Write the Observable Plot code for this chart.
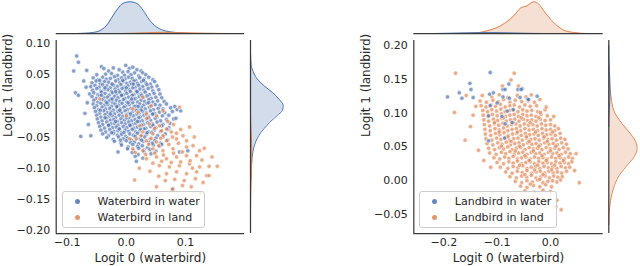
<!DOCTYPE html>
<html><head><meta charset="utf-8">
<script src="https://cdn.jsdelivr.net/npm/d3@7"></script>
<script src="https://cdn.jsdelivr.net/npm/@observablehq/plot@0.6"></script>
<style>
html,body{margin:0;padding:0;background:#fff;}
#chart{position:relative;width:640px;height:266px;overflow:hidden;font-family:"DejaVu Sans",sans-serif;color:#262626;}
.legend{position:absolute;box-sizing:border-box;border:1px solid #cccccc;border-radius:3px;background:rgba(255,255,255,0.8);font-size:11px;font-family:"DejaVu Sans",sans-serif;color:#262626;}
.legend .item{position:absolute;white-space:nowrap;line-height:16px;height:16px;}
.legend .sw{position:absolute;width:5px;height:5px;border-radius:50%;opacity:0.85;}
</style></head><body><div id="chart"></div>
<script>
// ---------- tick values ----------
const leftXTicks = [-0.1, 0.0, 0.1];
const leftYTicks = [0.10, 0.05, 0.00, -0.05, -0.10, -0.15, -0.20];
const rightXTicks = [-0.2, -0.1, 0.0];
const rightYTicks = [0.20, 0.15, 0.10, 0.05, 0.00, -0.05];

// ---------- labels ----------
const xLabel = "Logit 0 (waterbird)";
const yLabel = "Logit 1 (landbird)";
const leftSeries = ["Waterbird in water", "Waterbird in land"];
const rightSeries = ["Landbird in water", "Landbird in land"];

// ---------- scatter values (in thousandths of a logit) ----------
const waterbirdInWater = [
[-67,57],[-42,63],[-38,60],[-30,56],[-22,61],[-12,58],[-1,65],[5,60],[11,62],[18,58],[25,56],[28,53],[-50,50],[-25,52],[-6,54],[3,55],[14,53],[33,50],[-15,49],[21,48],[-35,51],[8,50],[-3,49],
[-56,45],[-48,42],[-40,46],[-34,43],[-27,44],[-20,47],[-14,42],[-8,45],[-2,43],[4,46],[10,44],[16,41],[23,45],[30,43],[38,46],[45,42],
[-58,37],[-51,40],[-44,36],[-37,39],[-30,38],[-24,35],[-18,40],[-11,37],[-5,39],[1,36],[7,38],[13,40],[19,36],[26,39],[33,37],[41,35],[48,39],
[-60,31],[-53,33],[-46,30],[-40,34],[-33,32],[-27,29],[-21,33],[-15,31],[-9,34],[-3,30],[3,32],[9,35],[15,30],[21,33],[28,31],[35,34],[43,30],[52,32],
[-57,25],[-50,28],[-43,24],[-37,27],[-31,26],[-25,23],[-19,27],[-13,25],[-7,28],[-1,24],[5,26],[11,29],[17,24],[23,27],[30,25],[37,28],[45,24],[55,26],
[-62,19],[-55,21],[-48,18],[-42,22],[-36,20],[-29,17],[-23,21],[-17,19],[-11,22],[-5,18],[1,20],[7,23],[13,18],[19,21],[25,19],[32,22],[39,18],[47,20],[57,19],
[-58,15],[-51,12],[-45,16],[-38,13],[-32,14],[-26,11],[-20,15],[-14,13],[-8,16],[-2,12],[4,14],[10,17],[16,12],[22,15],[28,13],[35,16],[42,12],[50,14],[60,13],
[-55,9],[-48,6],[-41,10],[-35,7],[-29,8],[-23,5],[-17,9],[-11,7],[-5,10],[1,6],[7,8],[13,11],[19,6],[25,9],[31,7],[38,10],[45,6],[53,8],[64,7],
[-56,3],[-50,0],[-43,4],[-37,1],[-31,2],[-25,-1],[-19,3],[-13,1],[-7,4],[-1,0],[5,2],[11,5],[17,0],[23,3],[29,1],[35,4],[42,0],[49,2],[57,1],[68,3],[82,-1],
[-54,-3],[-47,-6],[-41,-2],[-35,-5],[-28,-4],[-22,-7],[-16,-3],[-10,-5],[-4,-2],[2,-6],[8,-4],[14,-1],[20,-6],[26,-3],[32,-5],[39,-2],[46,-6],[54,-4],[62,-5],[75,-3],[86,-6],
[-52,-9],[-45,-12],[-38,-8],[-32,-11],[-26,-10],[-20,-13],[-14,-9],[-8,-11],[-2,-8],[4,-12],[10,-10],[16,-7],[22,-12],[28,-9],[34,-11],[41,-8],[48,-12],[56,-10],[65,-11],[78,-9],
[-50,-15],[-43,-18],[-36,-14],[-30,-17],[-24,-16],[-18,-19],[-12,-15],[-6,-17],[0,-14],[6,-18],[12,-16],[18,-13],[24,-18],[30,-15],[37,-17],[44,-14],[52,-18],[61,-16],[72,-15],
[-49,-21],[-41,-24],[-34,-20],[-27,-23],[-21,-22],[-15,-25],[-9,-21],[-3,-23],[3,-20],[9,-24],[15,-22],[21,-19],[27,-24],[34,-21],[41,-23],[49,-20],[58,-24],[68,-22],[80,-21],
[-47,-27],[-40,-30],[-33,-26],[-26,-29],[-20,-28],[-14,-31],[-8,-27],[-2,-29],[4,-26],[10,-30],[16,-28],[22,-25],[29,-30],[36,-27],[44,-29],[52,-26],[62,-30],[74,-28],
[-45,-33],[-37,-36],[-30,-32],[-23,-35],[-17,-34],[-11,-37],[-5,-33],[1,-35],[7,-32],[13,-36],[19,-34],[26,-31],[33,-36],[41,-33],[50,-35],[60,-32],[72,-35],
[-43,-39],[-35,-42],[-28,-38],[-21,-41],[-14,-40],[-8,-43],[-2,-39],[4,-41],[10,-38],[16,-42],[23,-40],[30,-37],[38,-42],[47,-39],[58,-41],[70,-38],
[-40,-45],[-30,-48],[-22,-44],[-15,-47],[-8,-46],[-1,-49],[6,-45],[12,-47],[19,-44],[26,-48],[34,-46],[43,-43],[53,-48],[66,-45],
[-33,-51],[-22,-54],[-13,-50],[-5,-53],[2,-52],[9,-55],[16,-51],[23,-53],[31,-50],[40,-54],[50,-52],[62,-50],
[-20,-57],[-9,-60],[0,-56],[7,-59],[14,-58],[21,-61],[29,-57],[38,-59],[48,-56],[58,-60],
[-8,-63],[3,-66],[11,-62],[19,-65],[27,-64],[36,-67],[46,-63],[56,-65],
[2,-69],[12,-72],[21,-68],[30,-71],[40,-70],[50,-73],
[10,-75],[20,-78],[30,-74],[42,-77],[15,-81],[28,-84],
[-45,41],[-24,35],[-6,41],[12,35],[29,41],[-36,29],[-18,23],[0,29],[18,23],[-42,17],[-24,11],[-8,17],[9,11],[26,17],[-33,5],[-16,-1],[3,5],[20,-1],[38,5],
[-44,-7],[-27,-13],[-11,-7],[7,-13],[25,-7],[45,-13],[-36,-19],[-18,-25],[0,-19],[19,-25],[38,-19],[-30,-31],[-12,-37],[6,-31],[24,-37],[45,-31],
[-25,-43],[-4,-43],[15,-49],[35,-43],[-10,-55],[26,-55],[44,-60],
[-84,80],[-81,70],[-89,56],[-86,21],[-81,17],[-77,-49],[-60,-48],[-14,-74],[-70,-12],[-66,5],[-68,30],[-64,-30],[-72,40],[84,-20],[92,-8],
[90,-74],[104,-72],[17,-89],[79,-133],[60,-62],[70,-55]
];
const waterbirdInLand = [
[-45,11],[28,14],[42,0],[34,-13],[51,-16],[23,-32],[39,-29],[56,-32],[68,-37],[28,-42],[45,-45],[62,-48],[76,-42],[17,-53],[34,-56],[51,-58],[68,-56],[85,-53],[96,-48],
[11,-69],[28,-72],[45,-69],[62,-72],[79,-69],[102,-66],[113,-64],[124,-72],[34,-85],[51,-82],[68,-85],[85,-82],[102,-80],[119,-80],
[56,-96],[73,-98],[90,-96],[107,-93],[124,-98],[68,-109],[85,-106],[102,-109],[119,-106],[136,-112],[154,-97],[14,-119],[51,-130],[78,-134],[95,-128],[130,-123],[117,-117],
[90,-2],[107,-34],[0,-16],[11,-5],[6,-53],
[38,-62],[55,-64],[72,-62],[88,-60],[25,-48],[42,-52],[58,-52],[78,-50],[33,-78],[48,-76],[63,-79],[80,-76],[95,-74],[108,-88],[92,-90],[76,-91],[60,-89],[45,-92],
[112,-100],[128,-87],[140,-97],[82,-118],[98,-120],[66,-120],[60,-40],[48,-36],[70,-25],[35,-20],[20,-10],[62,-8],[80,-30],[92,-38],[85,-44],[102,-56],[115,-50],
[132,-68],[145,-82],[15,-75],[22,-100],[40,-105],[55,-113],[110,-130],[125,-140],[140,-112]
];
const landbirdInLand = [
[-128,126],[-110,124],[-96,127],[-80,123],[-62,126],[-46,124],[-36,127],
[-132,118],[-120,116],[-108,119],[-98,117],[-88,120],[-76,116],[-66,119],[-54,117],[-42,118],[-30,116],
[-130,111],[-121,109],[-112,112],[-103,110],[-94,113],[-85,109],[-76,111],[-68,112],[-58,109],[-48,112],[-38,110],[-26,111],
[-127,104],[-118,102],[-110,105],[-101,103],[-93,106],[-85,102],[-77,104],[-69,105],[-61,102],[-52,105],[-44,103],[-35,104],[-24,102],[-10,105],
[-126,97],[-117,95],[-109,98],[-100,96],[-92,99],[-84,95],[-76,97],[-68,98],[-60,95],[-52,98],[-44,96],[-36,97],[-27,95],[-18,98],[-6,96],
[-125,90],[-116,88],[-107,91],[-99,89],[-91,92],[-83,88],[-75,90],[-67,91],[-59,88],[-51,91],[-43,89],[-35,90],[-27,88],[-19,91],[-10,89],[0,90],
[-124,83],[-114,81],[-105,84],[-97,82],[-89,85],[-81,81],[-73,83],[-65,84],[-57,81],[-49,84],[-41,82],[-33,83],[-25,81],[-17,84],[-9,82],[0,83],[8,81],
[-123,76],[-113,74],[-104,77],[-96,75],[-88,78],[-80,74],[-72,76],[-64,77],[-56,74],[-48,77],[-40,75],[-32,76],[-24,74],[-16,77],[-8,75],[0,76],[8,74],[15,77],
[-122,69],[-112,67],[-103,70],[-95,68],[-87,71],[-79,67],[-71,69],[-63,70],[-55,67],[-47,70],[-39,68],[-31,69],[-23,67],[-15,70],[-7,68],[1,69],[9,67],[18,70],
[-121,62],[-110,60],[-101,63],[-93,61],[-85,64],[-77,60],[-69,62],[-61,63],[-53,60],[-45,63],[-37,61],[-29,62],[-21,60],[-13,63],[-5,61],[3,62],[11,60],[19,63],[27,61],
[-119,55],[-108,53],[-99,56],[-91,54],[-83,57],[-75,53],[-67,55],[-59,56],[-51,53],[-43,56],[-35,54],[-27,55],[-19,53],[-11,56],[-3,54],[5,55],[13,53],[21,56],[30,54],
[-116,48],[-105,46],[-96,49],[-88,47],[-80,50],[-72,46],[-64,48],[-56,49],[-48,46],[-40,49],[-32,47],[-24,48],[-16,46],[-8,49],[0,47],[8,48],[16,46],[24,49],[33,47],
[-114,41],[-102,39],[-92,42],[-84,40],[-76,43],[-68,39],[-60,41],[-52,42],[-44,39],[-36,42],[-28,40],[-20,41],[-12,39],[-4,42],[4,40],[12,41],[20,39],[28,42],[37,40],
[-106,34],[-95,32],[-86,35],[-78,33],[-70,36],[-62,32],[-54,34],[-46,35],[-38,32],[-30,35],[-22,33],[-14,34],[-6,32],[2,35],[10,33],[18,34],[26,32],[34,35],[41,33],
[-100,27],[-88,25],[-78,28],[-70,26],[-62,29],[-54,25],[-46,27],[-38,28],[-30,25],[-22,28],[-14,26],[-6,27],[2,25],[10,28],[18,26],[26,27],[34,25],[40,28],
[-94,20],[-80,18],[-70,21],[-61,19],[-52,22],[-44,18],[-36,20],[-28,21],[-20,18],[-12,21],[-4,19],[4,20],[12,18],[20,21],[28,19],[36,20],
[-84,13],[-72,11],[-62,14],[-53,12],[-44,15],[-35,11],[-27,13],[-19,14],[-11,11],[-3,14],[5,12],[13,13],[21,11],[30,14],
[-76,6],[-64,4],[-54,7],[-45,5],[-36,8],[-27,4],[-18,6],[-10,7],[-2,4],[6,7],[14,5],[22,6],
[-66,-1],[-54,-3],[-44,0],[-34,-2],[-24,1],[-14,-3],[-5,-1],[4,0],[12,-2],[19,1],
[-56,-8],[-44,-10],[-32,-7],[-20,-9],[-9,-6],[2,-9],
[-48,-15],[-30,-17],[-14,-14],[0,-16],
[-105,86],[-88,93],[-70,86],[-55,93],[-38,86],[-22,93],[-96,72],[-80,65],[-62,72],[-45,65],[-28,72],[-12,65],[4,72],[-92,51],[-74,58],[-58,51],[-40,58],[-22,51],[-6,58],[10,51],
[-66,44],[-48,37],[-32,44],[-16,37],[0,44],[16,37],[-58,23],[-40,30],[-24,23],[-8,30],[8,23],[24,30],[-48,9],[-30,16],[-14,9],[2,16],[-38,-5],[-20,2],
[-178,159],[-180,101],[-145,97],[-158,126],[-160,60],[-68,159],[-74,149],[-8,109],[6,95],[-19,101],[54,-3],[20,-43],[12,-29],[-31,-24],[-72,-23],
[-140,110],[-150,80],[-135,45],[-125,30],[-112,20],[45,15],[48,40],[-60,140],[-90,140],[-20,120],[-5,-30],[-40,-25],[10,-38]
];
const landbirdInWater = [
[-193,124],[-171,130],[-166,122],[-151,144],[-149,135],[-145,123],[-113,160],[-114,128],[-107,130],[-113,111],[-89,135],[-89,124],[-78,143],[-116,96],[-91,95],[-85,84],
[-61,135],[-53,136],[-57,123],[-43,121],[-77,122],[-25,125],[-85,135],[-81,103],[-72,86],[-116,59],[-86,63],[-55,135],[-41,120],[-100,115],[-70,105]
];

// ---------- marginal densities [position, density] ----------
const leftTopWater = [[-0.085,0],[-0.0707,0.12],[-0.0566,0.4],[-0.0453,1.08],[-0.0339,3.08],[-0.0226,7.08],[-0.0142,10.0],[-0.0057,12.0],[0.0056,12.68],[0.0141,12.4],[0.0226,11.08],[0.031,8.4],[0.0395,5.32],[0.0508,2.68],[0.062,1.32],[0.0734,0.68],[0.09,0.28],[0.1017,0.08],[0.115,0]];
const leftTopLand = [[-0.01,0],[0.01,0.1],[0.03,0.25],[0.05,0.42],[0.065,0.46],[0.08,0.4],[0.1,0.28],[0.12,0.16],[0.14,0.08],[0.16,0.03],[0.18,0]];
const leftSideWater = [[0.085,0],[0.0646,0.28],[0.0593,0.68],[0.0433,2.68],[0.0326,5.32],[0.0219,8.68],[0.0112,11.32],[0.0005,13.08],[-0.0075,12.68],[-0.0155,10.68],[-0.0262,7.72],[-0.0369,5.32],[-0.0476,3.32],[-0.0582,2.0],[-0.0742,0.92],[-0.0957,0.4],[-0.1117,0.16],[-0.13,0]];
const leftSideLand = [[-0.01,0],[-0.03,0.12],[-0.05,0.34],[-0.07,0.5],[-0.085,0.5],[-0.1,0.4],[-0.12,0.24],[-0.14,0.1],[-0.16,0.03],[-0.18,0]];
const rightTopLand = [[-0.17,0],[-0.1439,0.12],[-0.1188,1.08],[-0.1,2.4],[-0.0812,4.8],[-0.0688,7.08],[-0.0563,10.12],[-0.0438,11.08],[-0.0313,12.68],[-0.022,11.72],[-0.0126,9.08],[0.0,5.72],[0.0126,3.08],[0.025,1.32],[0.0437,0.4],[0.0563,0.12],[0.07,0]];
const rightTopWater = [[-0.22,0],[-0.19,0.1],[-0.16,0.25],[-0.13,0.34],[-0.11,0.36],[-0.09,0.3],[-0.07,0.2],[-0.05,0.1],[-0.03,0.04],[-0.01,0]];
const rightSideLand = [[0.17,0],[0.1433,0.28],[0.1235,0.92],[0.1038,2.0],[0.0842,5.32],[0.0694,8.68],[0.0546,11.08],[0.0472,11.32],[0.0348,10.0],[0.02,6.68],[0.0052,3.72],[-0.0096,2.0],[-0.0293,0.68],[-0.049,0.16],[-0.065,0]];
const rightSideWater = [[0.08,0],[0.1,0.12],[0.12,0.4],[0.135,0.5],[0.15,0.4],[0.165,0.2],[0.18,0.06],[0.2,0]];

// ---------- drawing ----------
const BLUE = "#4c72b0", ORANGE = "#dd8452", SPINE = "#3a3a3a";
const fmt2 = d3.format(".2f"), fmt1 = d3.format(".1f");
const gx = d => d[0] / 1000, gy = d => d[1] / 1000;
const chart = document.getElementById("chart");
const baseStyle = {fontFamily: "DejaVu Sans, sans-serif", fontSize: "11px", color: "#262626", background: "transparent", overflow: "visible"};

function place(el, left, top) {
  el.style.position = "absolute";
  el.style.left = left + "px";
  el.style.top = top + "px";
  el.style.maxWidth = "none";
  chart.appendChild(el);
}

function panel(c) {
  const dotOpts = col => ({x: gx, y: gy, r: 2.2, fill: col, fillOpacity: 0.68, stroke: "white", strokeWidth: 0.6});
  const main = Plot.plot({
    width: c.width, height: 266,
    marginLeft: c.mL, marginRight: c.mR, marginTop: 40, marginBottom: 33,
    x: {domain: c.xDomain}, y: {domain: c.yDomain},
    style: baseStyle,
    marks: [
      Plot.axisX(c.xTicks, {tickSize: 0, tickPadding: 5, tickFormat: fmt1, label: null, fontSize: 11}),
      Plot.axisY(c.yTicks, {tickSize: 0, tickPadding: 6, tickFormat: fmt2, label: null, fontSize: 11}),
      Plot.dot(c.back, dotOpts(c.backColor)),
      Plot.dot(c.front, dotOpts(c.frontColor)),
      Plot.ruleX([c.xDomain[0]], {stroke: SPINE, strokeWidth: 1.25}),
      Plot.ruleY([c.yDomain[0]], {stroke: SPINE, strokeWidth: 1.25}),
      Plot.text([xLabel], {frameAnchor: "bottom", lineAnchor: "middle", dy: 25, fontSize: 12, fill: "#262626"}),
      Plot.text([yLabel], {frameAnchor: "left", lineAnchor: "middle", rotate: -90, dx: -48, fontSize: 12, fill: "#262626"})
    ]
  });
  place(main, c.left, 0);

  const top = Plot.plot({
    width: c.width, height: 34,
    marginLeft: c.mL, marginRight: c.mR, marginTop: 0, marginBottom: 1,
    x: {domain: c.xDomain, axis: null}, y: {domain: [0, c.topMax], axis: null},
    style: baseStyle,
    marks: [
      ...[[c.topBack, c.backColor], [c.topFront, c.frontColor]].flatMap(([d, col]) => [
        Plot.areaY(d, {x: e => e[0], y: e => e[1], fill: col, fillOpacity: 0.25, curve: "monotone-x"}),
        Plot.lineY(d, {x: e => e[0], y: e => e[1], stroke: col, strokeWidth: 1, curve: "monotone-x"})
      ]),
      Plot.ruleY([0], {stroke: SPINE, strokeWidth: 1.25})
    ]
  });
  place(top, c.left, 0);

  const side = Plot.plot({
    width: c.sideWidth, height: 266,
    marginLeft: c.sideML, marginRight: c.sideMR, marginTop: 40, marginBottom: 33,
    x: {domain: [0, c.sideMax], axis: null}, y: {domain: c.yDomain, axis: null},
    style: baseStyle,
    marks: [
      ...[[c.sideBack, c.backColor], [c.sideFront, c.frontColor]].flatMap(([d, col]) => {
        const s = d3.sort(d, e => e[0]);
        return [
          Plot.areaX(s, {y: e => e[0], x: e => e[1], fill: col, fillOpacity: 0.25, curve: "monotone-y"}),
          Plot.lineX(s, {y: e => e[0], x: e => e[1], stroke: col, strokeWidth: 1, curve: "monotone-y"})
        ];
      }),
      Plot.ruleX([0], {stroke: SPINE, strokeWidth: 1.25})
    ]
  });
  place(side, c.sideLeft, 0);
}

panel({
  left: 0, width: 250, mL: 55.7, mR: 6,
  xDomain: [-0.1186, 0.2], yDomain: [-0.205, 0.105],
  xTicks: leftXTicks, yTicks: leftYTicks,
  back: waterbirdInWater, front: waterbirdInLand, backColor: BLUE, frontColor: ORANGE,
  topBack: leftTopWater, topFront: leftTopLand, topMax: 13.2,
  sideBack: leftSideWater, sideFront: leftSideLand,
  sideLeft: 240, sideWidth: 50, sideML: 10, sideMR: 6, sideMax: 13.6
});
panel({
  left: 320, width: 290, mL: 93.3, mR: 7.3,
  xDomain: [-0.2562, 0.0988], yDomain: [-0.0781, 0.2074],
  xTicks: rightXTicks, yTicks: rightYTicks,
  back: landbirdInLand, front: landbirdInWater, backColor: ORANGE, frontColor: BLUE,
  topBack: rightTopLand, topFront: rightTopWater, topMax: 13.2,
  sideBack: rightSideLand, sideFront: rightSideWater,
  sideLeft: 600, sideWidth: 40, sideML: 8.3, sideMR: 0, sideMax: 12.68
});

function legend(left, top, width, height, items) {
  const box = document.createElement("div");
  box.className = "legend";
  Object.assign(box.style, {left: left + "px", top: top + "px", width: width + "px", height: height + "px"});
  items.forEach(([label, color], i) => {
    const sw = document.createElement("span");
    sw.className = "sw";
    Object.assign(sw.style, {left: "12.3px", top: (7.3 + 16 * i) + "px", background: color});
    const t = document.createElement("span");
    t.className = "item";
    t.textContent = label;
    Object.assign(t.style, {left: "34.8px", top: (2.2 + 16 * i) + "px"});
    box.appendChild(sw); box.appendChild(t);
  });
  chart.appendChild(box);
}
legend(61.7, 191, 143.3, 37, [[leftSeries[0], BLUE], [leftSeries[1], ORANGE]]);
legend(419, 191, 138.3, 37, [[rightSeries[0], BLUE], [rightSeries[1], ORANGE]]);
</script></body></html>
